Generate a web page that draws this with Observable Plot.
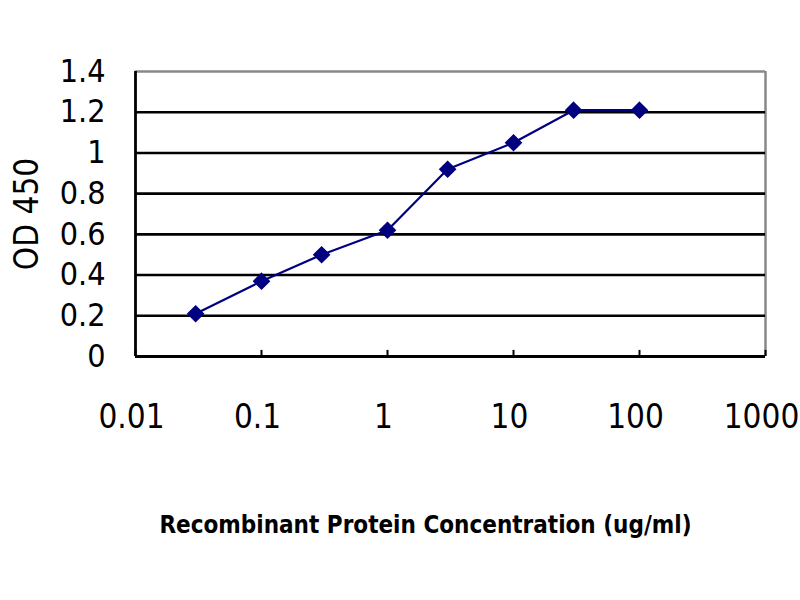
<!DOCTYPE html>
<html>
<head>
<meta charset="utf-8">
<script src="https://cdn.jsdelivr.net/npm/d3@7"></script>
<script src="https://cdn.jsdelivr.net/npm/@observablehq/plot@0.6"></script>
<style>
  html, body { margin: 0; padding: 0; background: #fff; }
  svg { font-family: "Liberation Sans Narrow", "DejaVu Sans Condensed", "Liberation Sans", sans-serif; }
</style>
</head>
<body>
<div id="chart"></div>
<script>
// Data
const concentration = [0.03, 0.1, 0.3, 1, 3, 10, 30, 100];
const od450 = [0.21, 0.37, 0.50, 0.62, 0.92, 1.05, 1.21, 1.21];
const xTicks = [0.01, 0.1, 1, 10, 100, 1000];
const xTickLabels = ["0.01", "0.1", "1", "10", "100", "1000"];
const yTicks = [0, 0.2, 0.4, 0.6, 0.8, 1, 1.2, 1.4];
const yTickLabels = ["0", "0.2", "0.4", "0.6", "0.8", "1", "1.2", "1.4"];
const gridValues = [0.2, 0.4, 0.6, 0.8, 1, 1.2];
const xLabel = "Recombinant Protein Concentration (ug/ml)";
const yLabel = "OD 450";

const data = concentration.map((c, i) => ({c, od: od450[i]}));
const navy = "#000080";

const chart = Plot.plot({
  width: 800,
  height: 600,
  marginLeft: 135,
  marginRight: 35,
  marginTop: 71,
  marginBottom: 244,
  style: {background: "#fff", overflow: "visible"},
  x: {type: "log", domain: [0.01, 1000]},
  y: {domain: [0, 1.4]},
  marks: [
    // plot frame: top and right in gray
    Plot.ruleY([1.4], {stroke: "#888", strokeWidth: 2.5}),
    Plot.ruleX([1000], {stroke: "#888", strokeWidth: 2.5}),
    // horizontal gridlines
    Plot.ruleY(gridValues, {stroke: "#000", strokeWidth: 2.6}),
    // left and bottom axis lines
    Plot.ruleX([0.01], {stroke: "#000", strokeWidth: 2.8}),
    Plot.ruleY([0], {stroke: "#000", strokeWidth: 2.8}),
    // small inward x ticks
    Plot.ruleX(xTicks, {y1: 0, y2: 0.03, stroke: "#000", strokeWidth: 2}),
    Plot.axisY({
      ticks: yTicks,
      tickFormat: (d) => yTickLabels[yTicks.indexOf(d)],
      tickSize: 0,
      tickPadding: 30,
      fontSize: 32,
      label: null,
      color: "#000"
    }),
    Plot.axisX({
      ticks: xTicks,
      tickFormat: (d) => xTickLabels[xTicks.indexOf(d)],
      tickSize: 0,
      tickPadding: 48,
      fontSize: 33,
      dx: -4,
      label: null,
      color: "#000"
    }),
    Plot.text([yLabel], {
      frameAnchor: "left",
      textAnchor: "middle",
      dx: -108,
      rotate: -90,
      fontSize: 33,
      fill: "#000"
    }),
    Plot.text([xLabel], {
      frameAnchor: "bottom",
      lineAnchor: "middle",
      dx: -25,
      dy: 169,
      fontSize: 24,
      fontWeight: "bold",
      fill: "#000"
    }),
    Plot.line(data, {x: "c", y: "od", stroke: navy, strokeWidth: 2.2}),
    Plot.dot(data, {x: "c", y: "od", symbol: "diamond2", r: 7, fill: navy, stroke: navy})
  ]
});
document.getElementById("chart").appendChild(chart);
</script>
</body>
</html>
